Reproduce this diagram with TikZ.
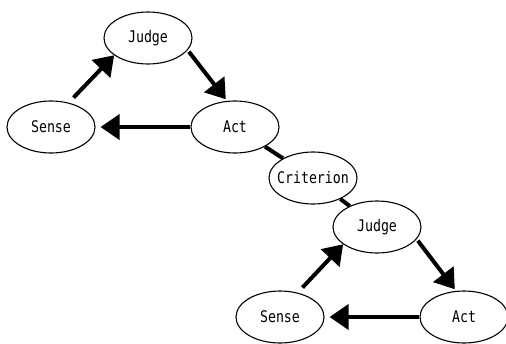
\documentclass[tikz,border=0pt]{standalone}
\usepackage{fontspec}
\newfontfamily\gothic[FakeStretch=0.83]{DejaVu Sans Mono}
\usetikzlibrary{shapes.geometric,arrows.meta}
\begin{document}
\begin{tikzpicture}[x=1pt, y=-1pt,
    every node/.style={draw, ellipse, line width=1.1pt, minimum width=88pt,
      minimum height=52pt, inner xsep=-8pt, inner ysep=0pt,
      font=\gothic\fontsize{16}{16}\selectfont},
    flow/.style={line width=4pt, -{Triangle[length=19pt,width=25pt]}},
    link/.style={line width=4pt}]
  \useasboundingbox (0,0) rectangle (506,343);
  % upper loop
  \node (judgeA) at (148,38) {Judge};
  \node (senseA) at (51,127) {Sense};
  \node (actA) at (235,127) {Act};
  \draw[flow, shorten <=7pt] (senseA.54) -- (judgeA.207);
  \draw[flow, shorten <=2pt, shorten >=2pt] (judgeA.-17) -- (actA.107);
  \draw[flow, shorten >=5pt] (actA.west) -- (senseA.east);
  % criterion between the loops
  \node (crit) at (313,178) {Criterion};
  % lower loop
  \node (judgeB) at (377,227) {Judge};
  \node (senseB) at (280,317) {Sense};
  \node (actB) at (464,317) {Act};
  \draw[flow, shorten <=7pt] (senseB.54) -- (judgeB.207);
  \draw[flow, shorten <=2pt, shorten >=2pt] (judgeB.-17) -- (actB.107);
  \draw[flow, shorten >=5pt] (actB.west) -- (senseB.east);
  \draw[link] (actA) -- (crit);
  \draw[link] (crit) -- (judgeB);
\end{tikzpicture}
\end{document}
